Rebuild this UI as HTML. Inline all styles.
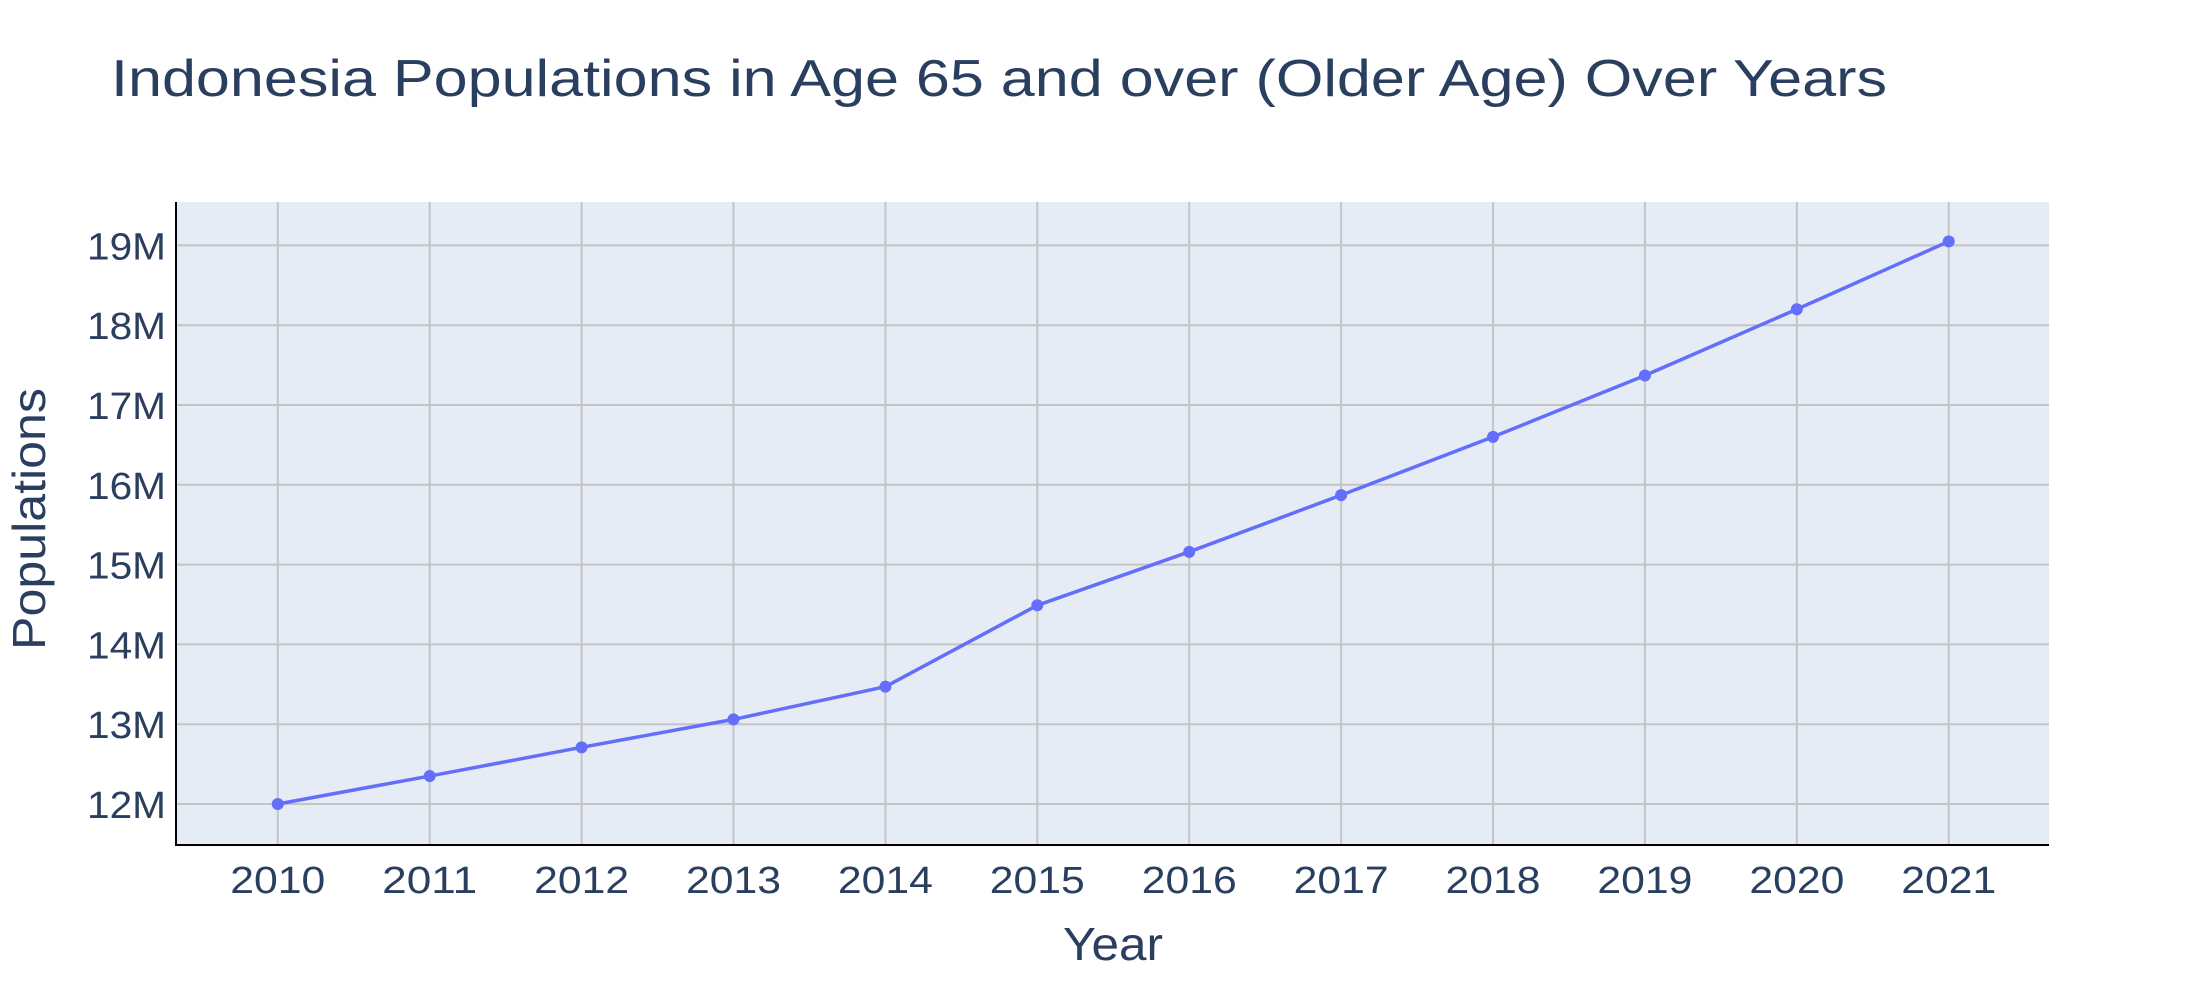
<!DOCTYPE html>
<html><head><meta charset="utf-8"><style>
body{margin:0;background:#fff;}
svg{display:block;font-family:"Liberation Sans","DejaVu Sans",sans-serif;fill:#2a3f5f;}
</style></head><body>
<svg id="chart" width="2200" height="1000" viewBox="0 0 2200 1000" xmlns="http://www.w3.org/2000/svg">
<text x="111" y="96" font-size="52" textLength="1776" lengthAdjust="spacingAndGlyphs">Indonesia Populations in Age 65 and over (Older Age) Over Years</text>
<rect x="176" y="202" width="1873" height="643" fill="#e5ecf6"/>
<g id="grid"></g>
<g id="series"></g>
<line x1="176" y1="202" x2="176" y2="846" stroke="#000" stroke-width="2"/>
<line x1="175" y1="845" x2="2049" y2="845" stroke="#000" stroke-width="2"/>
<g id="ticks"></g>
<text x="1063" y="960" font-size="46" textLength="100" lengthAdjust="spacingAndGlyphs">Year</text>
<text transform="translate(45,650) rotate(-90)" font-size="46" textLength="262" lengthAdjust="spacingAndGlyphs">Populations</text>
</svg>
<script>
const years = [2010,2011,2012,2013,2014,2015,2016,2017,2018,2019,2020,2021];
const populations = [12.0,12.35,12.71,13.06,13.47,14.49,15.16,15.87,16.60,17.37,18.20,19.05];
const yTicks = [12,13,14,15,16,17,18,19];
const yTickLabels = ["12M","13M","14M","15M","16M","17M","18M","19M"];

const L=176,R=2049,T=202,B=845;
const xMin=2009.33,xMax=2021.66,yMin=11.486,yMax=19.544;
const xs=v=>L+(v-xMin)/(xMax-xMin)*(R-L);
const ys=v=>B-(v-yMin)/(yMax-yMin)*(B-T);
const NS="http://www.w3.org/2000/svg";
function mk(tag,attrs,parent){const e=document.createElementNS(NS,tag);for(const k in attrs)e.setAttribute(k,attrs[k]);parent.appendChild(e);return e;}
const grid=document.getElementById('grid'),ticks=document.getElementById('ticks'),series=document.getElementById('series');
yTicks.forEach((v,i)=>{
  const g=mk('line',{x1:L,x2:R,y1:ys(v),y2:ys(v),stroke:'#c4c4c4','stroke-width':2},grid);
  
  
  const t=mk('text',{x:87,y:ys(v)+14,'font-size':38,textLength:79,lengthAdjust:'spacingAndGlyphs'},ticks);
  t.textContent=yTickLabels[i];
  
  
});
years.forEach(v=>{
  const g=mk('line',{x1:xs(v),x2:xs(v),y1:T,y2:B,stroke:'#c4c4c4','stroke-width':2},grid);
  
  
  const t=mk('text',{x:xs(v)-47.5,y:893,'font-size':38,textLength:95,lengthAdjust:'spacingAndGlyphs'},ticks);
  t.textContent=String(v);
  
  
});
const pts=years.map((y,i)=>xs(y)+','+ys(populations[i])).join(' ');
const line=mk('polyline',{points:pts,fill:'none',stroke:'#636efa','stroke-width':3.5,'stroke-linejoin':'round'},series);


years.forEach((y,i)=>{
  const c=mk('circle',{cx:xs(y),cy:ys(populations[i]),r:6,fill:'#636efa'},series);
  
  
});
</script>
</body></html>
